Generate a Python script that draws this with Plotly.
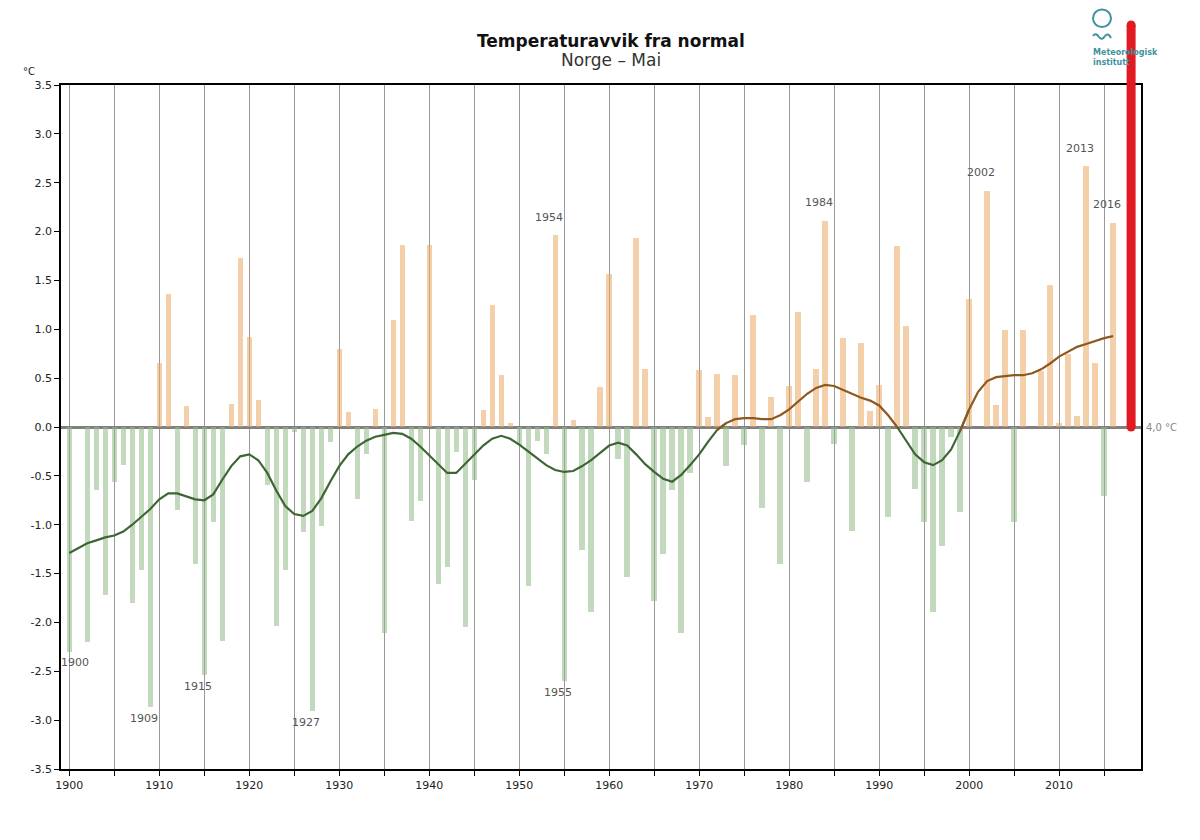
import plotly.graph_objects as go

# ---------------- data ----------------
years = list(range(1900, 2017))
anomaly = [
    -2.30, 0.00, -2.20, -0.64, -1.72, -0.56, -0.39, -1.80, -1.46, -2.87,   # 1900-1909
    0.65, 1.36, -0.85, 0.22, -1.40, -2.54, -0.97, -2.19, 0.24, 1.73,       # 1910-1919
    0.92, 0.28, -0.59, -2.04, -1.46, -0.05, -1.07, -2.91, -1.01, -0.15,    # 1920-1929
    0.80, 0.15, -0.74, -0.28, 0.18, -2.11, 1.09, 1.86, -0.96, -0.76,       # 1930-1939
    1.86, -1.61, -1.43, -0.26, -2.05, -0.54, 0.17, 1.25, 0.53, 0.04,       # 1940-1949
    -0.18, -1.63, -0.14, -0.28, 1.96, -2.60, 0.07, -1.26, -1.89, 0.41,     # 1950-1959
    1.57, -0.33, -1.53, 1.93, 0.59, -1.78, -1.30, -0.64, -2.11, -0.47,     # 1960-1969
    0.58, 0.10, 0.54, -0.40, 0.53, -0.18, 1.15, -0.83, 0.31, -1.40,        # 1970-1979
    0.42, 1.18, -0.56, 0.59, 2.11, -0.17, 0.91, -1.06, 0.86, 0.16,         # 1980-1989
    0.43, -0.92, 1.85, 1.03, -0.63, -0.97, -1.89, -1.22, -0.10, -0.87,     # 1990-1999
    1.31, 0.00, 2.42, 0.23, 0.99, -0.97, 0.99, 0.00, 0.57, 1.45,           # 2000-2009
    0.04, 0.75, 0.11, 2.67, 0.65, -0.71, 2.09,                              # 2010-2016
]
smooth = [
    -1.29, -1.24, -1.19, -1.16, -1.13, -1.11, -1.07, -1.00, -0.92, -0.84,  # 1900-1909
    -0.74, -0.68, -0.68, -0.71, -0.74, -0.75, -0.69, -0.54, -0.40, -0.30,  # 1910-1919
    -0.28, -0.34, -0.47, -0.65, -0.81, -0.89, -0.91, -0.86, -0.73, -0.56,  # 1920-1929
    -0.40, -0.28, -0.20, -0.14, -0.10, -0.08, -0.06, -0.07, -0.12, -0.20,  # 1930-1939
    -0.29, -0.39, -0.47, -0.47, -0.38, -0.29, -0.19, -0.12, -0.09, -0.12,  # 1940-1949
    -0.18, -0.25, -0.32, -0.39, -0.44, -0.46, -0.45, -0.40, -0.34, -0.26,  # 1950-1959
    -0.19, -0.16, -0.19, -0.28, -0.38, -0.46, -0.53, -0.56, -0.49, -0.39,  # 1960-1969
    -0.28, -0.15, -0.03, 0.04, 0.08, 0.09, 0.09, 0.08, 0.08, 0.12,         # 1970-1979
    0.18, 0.26, 0.34, 0.40, 0.43, 0.42, 0.38, 0.34, 0.30, 0.27,            # 1980-1989
    0.22, 0.12, 0.00, -0.14, -0.28, -0.36, -0.39, -0.34, -0.23, -0.04,     # 1990-1999
    0.18, 0.36, 0.47, 0.51, 0.52, 0.53, 0.53, 0.55, 0.59, 0.65,            # 2000-2009
    0.72, 0.77, 0.82, 0.85, 0.88, 0.91, 0.93,                               # 2010-2016
]
labeled_years = [1900, 1909, 1915, 1927, 1954, 1955, 1984, 2002, 2013, 2016]
y_ticks = [-3.5, -3.0, -2.5, -2.0, -1.5, -1.0, -0.5, 0.0, 0.5, 1.0, 1.5, 2.0, 2.5, 3.0, 3.5]
x_ticks = list(range(1900, 2016, 5))
x_tick_labels = [str(v) if v % 10 == 0 else "" for v in x_ticks]
normal_label = "4,0 °C"
marker_year = 2018
title = "Temperaturavvik fra normal"
subtitle = "Norge – Mai"

assert len(anomaly) == len(years) == len(smooth)

# ---------------- layout geometry ----------------
OFF = 8                      # default page body margin
W, H = 1200 - 2 * OFF, 840 - 2 * OFF
L, R, T, B = 61 - OFF, 51, 85 - OFF, 63
x_range = [1899.08, 2019.1]
y_range = [-3.5, 3.5]


def px_x(px):      # page pixel -> paper x
    return (px - OFF - L) / (W - L - R)


def px_y(py):      # page pixel -> paper y
    return (H - B - (py - OFF)) / (H - T - B)


POS_BAR = "rgba(235,170,100,0.55)"
NEG_BAR = "rgba(144,186,137,0.55)"
GREEN = "#3e6634"
BROWN = "#8c5820"
TEAL = "#3f93a0"
RED = "#e01b24"
FONT = "DejaVu Sans"

fig = go.Figure()

fig.add_trace(go.Bar(
    x=years, y=anomaly, width=0.6,
    marker=dict(color=[POS_BAR if v > 0 else NEG_BAR for v in anomaly], line=dict(width=0)),
    hoverinfo="x+y", showlegend=False,
))

# smoothed curve, green below zero, brown above
n = len(smooth)
neg_y, pos_y = [], []
for i, v in enumerate(smooth):
    prev_v = smooth[i - 1] if i > 0 else v
    next_v = smooth[i + 1] if i < n - 1 else v
    neg_y.append(v if (v <= 0 or prev_v < 0 or next_v < 0) else None)
    pos_y.append(v if (v >= 0 or prev_v > 0 or next_v > 0) else None)

fig.add_trace(go.Scatter(x=years, y=neg_y, mode="lines", line=dict(color=GREEN, width=2.2),
                         connectgaps=False, showlegend=False, hoverinfo="skip"))
fig.add_trace(go.Scatter(x=years, y=pos_y, mode="lines", line=dict(color=BROWN, width=2.2),
                         connectgaps=False, showlegend=False, hoverinfo="skip"))

annotations = []
for yr in labeled_years:
    v = anomaly[years.index(yr)]
    annotations.append(dict(
        x=yr, y=v, xref="x", yref="y", text=str(yr), showarrow=False,
        xanchor="center", yanchor="middle",
        xshift=6 if yr == years[0] else -6, yshift=18 if v > 0 else -11,
        font=dict(family=FONT, size=11, color="#555555"),
    ))

annotations += [
    dict(x=px_x(611), y=px_y(41), xref="paper", yref="paper", text="<b>" + title + "</b>",
         xanchor="center", yanchor="middle",
         showarrow=False, font=dict(family=FONT, size=17, color="#111111")),
    dict(x=px_x(611), y=px_y(60), xref="paper", yref="paper", text=subtitle,
         xanchor="center", yanchor="middle",
         showarrow=False, font=dict(family=FONT, size=17, color="#333333")),
    dict(x=px_x(21), y=px_y(71), xref="paper", yref="paper", text="°C",
         xanchor="left", yanchor="middle",
         showarrow=False, font=dict(family=FONT, size=10, color="#222222")),
    dict(x=1.0, y=0, xref="paper", yref="y", text=normal_label, xanchor="left", yanchor="middle",
         xshift=3, showarrow=False, font=dict(family=FONT, size=10, color="#888888")),
    dict(x=px_x(1091), y=px_y(58), xref="paper", yref="paper", xanchor="left", yanchor="middle",
         text="<b>Meteorologisk<br>institutt</b>", align="left", showarrow=False,
         font=dict(family=FONT, size=8, color=TEAL)),
]

mx = (marker_year - x_range[0]) / (x_range[1] - x_range[0])
top_py = 25
r_px = 4.5
zero_py = OFF + T + 0.5 * (H - T - B)
shapes = [
    # logo circle
    dict(type="circle", xref="paper", yref="paper",
         x0=px_x(1093), x1=px_x(1111), y0=px_y(27), y1=px_y(9.5),
         line=dict(color=TEAL, width=2)),
    # logo wave
    dict(type="path", xref="paper", yref="paper",
         path=(f"M {px_x(1093)},{px_y(36)} Q {px_x(1096)},{px_y(32)} {px_x(1099)},{px_y(37)} "
               f"Q {px_x(1102)},{px_y(41)} {px_x(1105)},{px_y(36)} "
               f"Q {px_x(1108)},{px_y(32)} {px_x(1111)},{px_y(38)}"),
         line=dict(color=TEAL, width=2)),
    # red marker bar
    dict(type="line", xref="paper", yref="paper", x0=mx, x1=mx,
         y0=0.5, y1=px_y(top_py), line=dict(color=RED, width=9)),
]
cx = OFF + L + mx * (W - L - R)
for cy in [top_py, zero_py]:
    shapes.append(dict(type="circle", xref="paper", yref="paper",
                       x0=px_x(cx - r_px), x1=px_x(cx + r_px), y0=px_y(cy + r_px), y1=px_y(cy - r_px),
                       fillcolor=RED, line=dict(width=0)))

fig.update_layout(
    width=W, height=H,
    margin=dict(l=L, r=R, t=T, b=B, pad=0),
    paper_bgcolor="white", plot_bgcolor="white",
    bargap=0,
    font=dict(family=FONT, size=11, color="#222222"),
    annotations=annotations,
    shapes=shapes,
    xaxis=dict(
        range=x_range, tickmode="array", tickvals=x_ticks, ticktext=x_tick_labels,
        showgrid=True, gridcolor="#999999", gridwidth=1.3,
        ticks="outside", ticklen=5, tickcolor="#000000",
        showline=True, linecolor="#000000", linewidth=1.5, mirror=True,
        zeroline=False, tickfont=dict(family=FONT, size=11, color="#222222"),
    ),
    yaxis=dict(
        range=y_range, tickmode="array", tickvals=y_ticks,
        ticktext=[f"{v:.1f}" for v in y_ticks],
        showgrid=False, ticks="outside", ticklen=5, tickcolor="#000000",
        showline=True, linecolor="#000000", linewidth=1.5, mirror=True,
        zeroline=True, zerolinecolor="#808080", zerolinewidth=3,
        tickfont=dict(family=FONT, size=11, color="#222222"),
    ),
)

fig.write_html("out.html")
